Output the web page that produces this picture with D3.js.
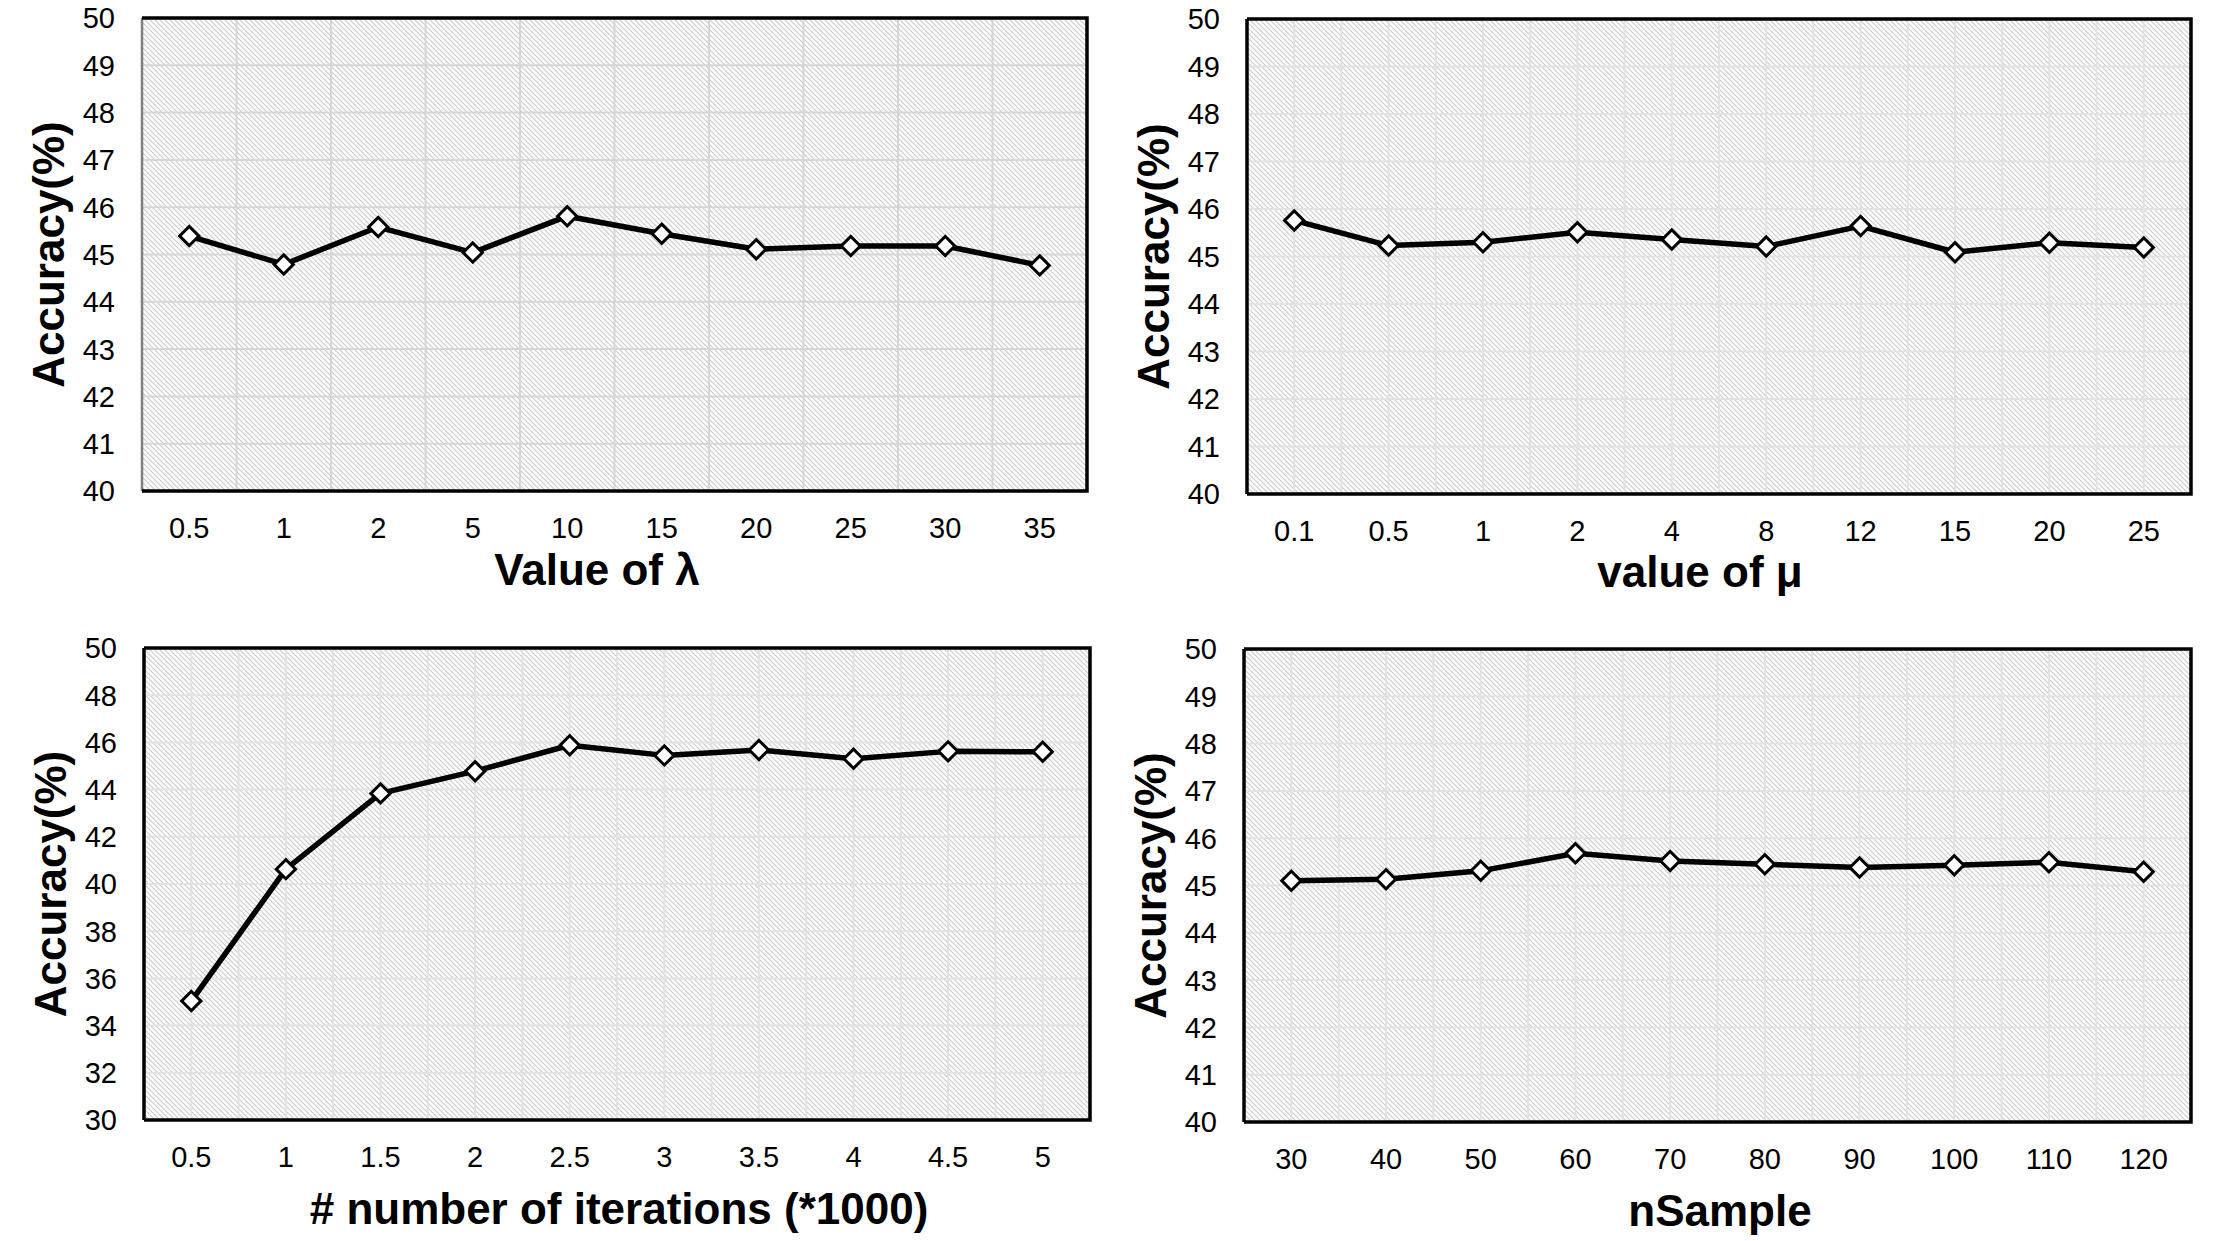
<!DOCTYPE html>
<html>
<head>
<meta charset="utf-8">
<script src="https://cdn.jsdelivr.net/npm/d3@7"></script>
<style>
  body { margin: 0; background: #fff; }
  svg { display: block; }
</style>
</head>
<body>
<div id="chart"></div>
<script>
// values
var lambdaLabels = ['0.5', '1', '2', '5', '10', '15', '20', '25', '30', '35'];
var lambdaAcc = [45.39, 44.79, 45.58, 45.04, 45.81, 45.44, 45.11, 45.18, 45.18, 44.77];

var muLabels = ['0.1', '0.5', '1', '2', '4', '8', '12', '15', '20', '25'];
var muAcc = [45.76, 45.23, 45.30, 45.51, 45.36, 45.21, 45.64, 45.09, 45.29, 45.19];

var iterLabels = ['0.5', '1', '1.5', '2', '2.5', '3', '3.5', '4', '4.5', '5'];
var iterAcc = [35.04, 40.63, 43.84, 44.78, 45.88, 45.45, 45.68, 45.31, 45.62, 45.60];

var sampleLabels = ['30', '40', '50', '60', '70', '80', '90', '100', '110', '120'];
var sampleAcc = [45.10, 45.13, 45.31, 45.68, 45.52, 45.45, 45.38, 45.43, 45.49, 45.29];

var yTicksNarrow = [40, 41, 42, 43, 44, 45, 46, 47, 48, 49, 50];
var yTicksWide = [30, 32, 34, 36, 38, 40, 42, 44, 46, 48, 50];

var yTitle = 'Accuracy(%)';

var width = 2219,
    height = 1241;

// layout of each panel (plot box in pixels)
var panels = [
  { labels: lambdaLabels, values: lambdaAcc, ticks: yTicksNarrow, title: 'Value of λ',
    l: 142, r: 1087, t: 18, b: 491, titleX: 597, titleDy: 94, halfGrid: false, grayLeft: true, grid: '#d6d6d6' },
  { labels: muLabels, values: muAcc, ticks: yTicksNarrow, title: 'value of μ',
    l: 1247, r: 2191, t: 19, b: 494, titleX: 1700, titleDy: 93, halfGrid: true, grayLeft: false, grid: '#e2e2e2' },
  { labels: iterLabels, values: iterAcc, ticks: yTicksWide, title: '# number of iterations (*1000)',
    l: 144, r: 1090, t: 648, b: 1120, titleX: 619, titleDy: 104, halfGrid: true, grayLeft: false, grid: '#e2e2e2' },
  { labels: sampleLabels, values: sampleAcc, ticks: yTicksNarrow, title: 'nSample',
    l: 1244, r: 2191, t: 649, b: 1122, titleX: 1720, titleDy: 104, halfGrid: true, grayLeft: false, grid: '#e2e2e2' }
];

var font = "'Liberation Sans', Arial, sans-serif";

var svg = d3.select('#chart')
  .append('svg')
  .attr('width', width)
  .attr('height', height);

// downward diagonal hatch used as plot background
var pattern = svg.append('defs')
  .append('pattern')
  .attr('id', 'hatch')
  .attr('patternUnits', 'userSpaceOnUse')
  .attr('width', 5)
  .attr('height', 5);

pattern.append('rect')
  .attr('width', 5)
  .attr('height', 5)
  .attr('fill', '#fff');

pattern.append('path')
  .attr('d', 'M0,0L5,5M-1,4L1,6M4,-1L6,1')
  .attr('stroke', '#cccccc')
  .attr('stroke-width', 1.2);

var diamond = d3.symbol().type(d3.symbolSquare).size(185);

panels.forEach(function(p) {

  var x = d3.scaleBand()
    .domain(p.labels)
    .range([p.l, p.r])
    .padding(0);

  var y = d3.scaleLinear()
    .domain(d3.extent(p.ticks))
    .range([p.b, p.t]);

  var g = svg.append('g');

  g.append('rect')
    .attr('x', p.l)
    .attr('y', p.t)
    .attr('width', p.r - p.l)
    .attr('height', p.b - p.t)
    .attr('fill', 'url(#hatch)');

  // horizontal grid
  g.selectAll('.hgrid')
    .data(p.ticks.slice(1, -1))
    .enter()
    .append('line')
    .attr('x1', p.l)
    .attr('x2', p.r)
    .attr('y1', function(d) { return y(d); })
    .attr('y2', function(d) { return y(d); })
    .attr('stroke', p.grid)
    .attr('stroke-width', 2);

  // vertical grid: band edges, plus band centres on three of the panels
  var vx = [];
  p.labels.forEach(function(d, i) {
    if (p.halfGrid) vx.push(x(d) + x.bandwidth() / 2);
    if (i > 0) vx.push(x(d));
  });

  g.selectAll('.vgrid')
    .data(vx)
    .enter()
    .append('line')
    .attr('x1', function(d) { return d; })
    .attr('x2', function(d) { return d; })
    .attr('y1', p.t)
    .attr('y2', p.b)
    .attr('stroke', p.grid)
    .attr('stroke-width', 2);

  // frame
  g.append('line')
    .attr('x1', p.l).attr('x2', p.l)
    .attr('y1', p.t).attr('y2', p.b)
    .attr('stroke', p.grayLeft ? '#7f7f7f' : '#000')
    .attr('stroke-width', p.grayLeft ? 2.5 : 3.5);

  g.append('path')
    .attr('d', 'M' + p.l + ',' + p.t + 'H' + p.r + 'V' + p.b + 'H' + p.l)
    .attr('fill', 'none')
    .attr('stroke', '#000')
    .attr('stroke-width', 3.5);

  // y tick labels
  g.selectAll('.ytick')
    .data(p.ticks)
    .enter()
    .append('text')
    .attr('x', p.l - 27)
    .attr('y', function(d) { return y(d); })
    .attr('dy', '0.36em')
    .attr('text-anchor', 'end')
    .attr('font-family', font)
    .attr('font-size', '29px')
    .attr('fill', '#000')
    .text(function(d) { return d; });

  // x tick labels
  g.selectAll('.xtick')
    .data(p.labels)
    .enter()
    .append('text')
    .attr('x', function(d) { return x(d) + x.bandwidth() / 2; })
    .attr('y', p.b + 47)
    .attr('text-anchor', 'middle')
    .attr('font-family', font)
    .attr('font-size', '29px')
    .attr('fill', '#000')
    .text(function(d) { return d; });

  // axis titles
  g.append('text')
    .attr('x', p.titleX)
    .attr('y', p.b + p.titleDy)
    .attr('text-anchor', 'middle')
    .attr('font-family', font)
    .attr('font-size', '44px')
    .attr('font-weight', 'bold')
    .attr('fill', '#000')
    .text(p.title);

  g.append('text')
    .attr('transform', 'translate(' + (p.l - 78) + ',' + ((p.t + p.b) / 2) + ') rotate(-90)')
    .attr('text-anchor', 'middle')
    .attr('font-family', font)
    .attr('font-size', '44px')
    .attr('font-weight', 'bold')
    .attr('fill', '#000')
    .text(yTitle);

  // series
  var line = d3.line()
    .x(function(d, i) { return x(p.labels[i]) + x.bandwidth() / 2; })
    .y(function(d) { return y(d); });

  g.append('path')
    .datum(p.values)
    .attr('d', line)
    .attr('fill', 'none')
    .attr('stroke', '#000')
    .attr('stroke-width', 5.5)
    .attr('stroke-linejoin', 'round');

  g.selectAll('.marker')
    .data(p.values)
    .enter()
    .append('path')
    .attr('d', diamond)
    .attr('transform', function(d, i) {
      return 'translate(' + (x(p.labels[i]) + x.bandwidth() / 2) + ',' + y(d) + ') rotate(45)';
    })
    .attr('fill', '#fff')
    .attr('stroke', '#000')
    .attr('stroke-width', 3);
});
</script>
</body>
</html>
